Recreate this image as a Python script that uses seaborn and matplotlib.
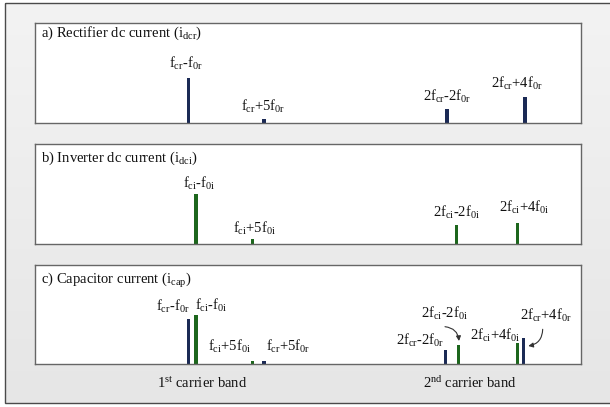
import numpy as np
import matplotlib
matplotlib.use("Agg")
import matplotlib.pyplot as plt
from matplotlib.patches import Rectangle
import seaborn as sns

# spectral lines, frequency in arbitrary units, amplitude in arbitrary units
freq_rect_a = [153.8, 229.5, 412.5, 490.5]
amp_rect_a = [45.0, 3.3, 13.6, 25.6]
freq_inv_b = [161.5, 218.2, 422.2, 482.8]
amp_inv_b = [50.0, 4.3, 18.3, 21.0]
freq_rect_c = [153.8, 229.5, 411.2, 488.8]
amp_rect_c = [44.7, 3.4, 14.0, 25.7]
freq_inv_c = [161.5, 218.2, 423.8, 482.8]
amp_inv_c = [49.4, 3.4, 19.0, 21.3]

rect_names = [r"f$_{\mathrm{cr}}$-f$_{\mathrm{0r}}$", r"f$_{\mathrm{cr}}$+5f$_{\mathrm{0r}}$",
              r"2f$_{\mathrm{cr}}$-2f$_{\mathrm{0r}}$", r"2f$_{\mathrm{cr}}$+4f$_{\mathrm{0r}}$"]
inv_names = [r"f$_{\mathrm{ci}}$-f$_{\mathrm{0i}}$", r"f$_{\mathrm{ci}}$+5f$_{\mathrm{0i}}$",
             r"2f$_{\mathrm{ci}}$-2f$_{\mathrm{0i}}$", r"2f$_{\mathrm{ci}}$+4f$_{\mathrm{0i}}$"]
titles = [r"a) Rectifier dc current (i$_{\mathrm{dcr}}$)",
          r"b) Inverter dc current (i$_{\mathrm{dci}}$)",
          r"c) Capacitor current (i$_{\mathrm{cap}}$)"]
band_names = [r"1$^{\mathrm{st}}$ carrier band", r"2$^{\mathrm{nd}}$ carrier band"]

# label anchor positions (data coords)
pos_a = [(151.5, 59.3), (228.5, 16.3), (412.2, 26.3), (482.5, 39.3)]
pos_b = [(164.5, 60.0), (220.5, 15.6), (422.2, 31.6), (489.8, 36.0)]
pos_c_rect = [(138.8, 57.3), (253.5, 17.3), (385.5, 24.0), (511.5, 49.0)]
pos_c_inv = [(177.2, 59.0), (195.5, 17.3), (410.5, 50.7), (460.5, 29.0)]
title_y = [89.0, 85.0, 84.0]

navy = "#1b2a55"
green = "#1d661d"
bar_w = 3.2

sns.set_theme(style="white")
plt.rcParams["font.family"] = ["Liberation Serif", "DejaVu Serif"]
plt.rcParams["mathtext.fontset"] = "custom"
plt.rcParams["mathtext.rm"] = "Liberation Serif"
plt.rcParams["mathtext.it"] = "Liberation Serif:italic"
plt.rcParams["mathtext.bf"] = "Liberation Serif:bold"
fs = 10.5

W, H = 610, 407
fig = plt.figure(figsize=(W / 100, H / 100), dpi=100)
fig.patch.set_facecolor("white")

# framed gradient background
bg = fig.add_axes([0, 0, 1, 1], zorder=-5)
bg.set_xlim(0, W)
bg.set_ylim(H, 0)
grad = np.linspace(0, 1, 200).reshape(-1, 1)
bg.imshow(grad, cmap=matplotlib.colors.LinearSegmentedColormap.from_list("g", ["#f3f3f3", "#e6e6e6"]),
          extent=(5, W + 5, 403.3, 3.3), aspect="auto", zorder=0)
bg.add_patch(Rectangle((5, 3.3), W + 10, 400, facecolor="none", edgecolor="#4a4a4a", lw=1.0, zorder=1))
bg.set_xlim(0, W)
bg.set_ylim(H, 0)
bg.axis("off")

tops = [23.3, 144.3, 264.7]
left, width, height = 34.5, 546.5, 99.3


def draw_bars(ax, freqs, amps, color):
    spacing = np.diff(np.unique(freqs)).min()
    sns.barplot(x=freqs, y=amps, native_scale=True, color=color, saturation=1,
                width=bar_w / spacing, errorbar=None, linewidth=0, ax=ax)


axes = []
for top in tops:
    ax = fig.add_axes([left / W, 1 - (top + height) / H, width / W, height / H])
    ax.set_facecolor("white")
    axes.append(ax)

draw_bars(axes[0], freq_rect_a, amp_rect_a, navy)
draw_bars(axes[1], freq_inv_b, amp_inv_b, green)
draw_bars(axes[2], freq_rect_c, amp_rect_c, navy)
draw_bars(axes[2], freq_inv_c, amp_inv_c, green)

for ax, names, pos in [(axes[0], rect_names, pos_a), (axes[1], inv_names, pos_b),
                       (axes[2], rect_names, pos_c_rect), (axes[2], inv_names, pos_c_inv)]:
    for name, (x, y) in zip(names, pos):
        ax.text(x, y, name, ha="center", va="center", fontsize=fs, color="#111111")

for ax, t, ty in zip(axes, titles, title_y):
    ax.text(6.2, ty, t, ha="left", va="center", fontsize=fs, color="#111111")
    ax.set_xlim(0, width)
    ax.set_ylim(0, height)
    ax.set_xticks([])
    ax.set_yticks([])
    ax.set_xlabel("")
    ax.set_ylabel("")
    for s in ax.spines.values():
        s.set_visible(True)
        s.set_color("#666666")
        s.set_linewidth(1.0)

arrow_kw = dict(arrowstyle="-|>", connectionstyle="arc3,rad=-0.4", color="#333333",
                lw=0.8, mutation_scale=7, shrinkA=0, shrinkB=0)
axes[2].annotate("", xy=(424.5, 23.0), xytext=(410.5, 37.3), arrowprops=arrow_kw)
axes[2].annotate("", xy=(493.8, 18.0), xytext=(508.2, 34.7), arrowprops=arrow_kw)

fig.text(201.7 / W, 1 - 383.3 / H, band_names[0], ha="center", va="center", fontsize=fs, color="#111111")
fig.text(469.7 / W, 1 - 383.3 / H, band_names[1], ha="center", va="center", fontsize=fs, color="#111111")

fig.savefig("out.png", dpi=100)
